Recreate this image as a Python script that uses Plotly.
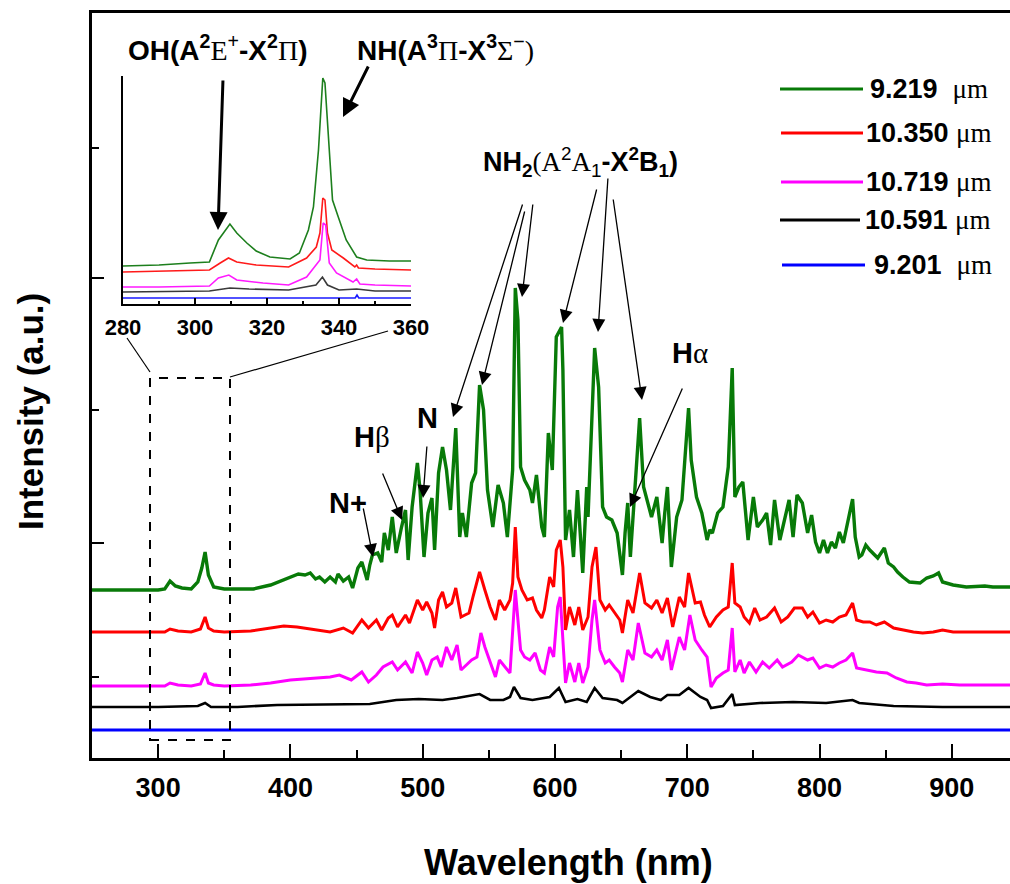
import plotly.graph_objects as go

# ---------------- main spectra: wavelength (nm) and intensity (a.u.) ----------------
green_wl = [250, 280, 300, 305, 309, 313, 318, 325, 330, 333, 335.5, 338, 342, 350, 360, 372, 385, 397,
            406, 411, 415, 419, 422, 426, 430, 434, 436, 440, 444, 447, 451, 454, 456, 458, 460, 462,
            466, 469, 471, 474, 477, 480, 484, 487, 489, 492, 496, 498, 501, 504, 507, 509, 512, 515,
            518, 521, 525, 528, 530, 533, 537, 540, 543, 546, 549, 553, 557, 561, 564, 568, 570, 572,
            574, 577, 581, 583, 586, 590, 592, 595, 598, 601, 605, 606, 608, 611, 614, 617, 621, 624,
            625, 628, 630, 633, 636, 639, 643, 647, 651, 653, 655, 657, 661, 664, 667, 670, 673, 677,
            681, 683, 685, 688, 692, 696, 698, 701, 703, 707, 711, 715, 717, 719, 723, 727, 731, 734,
            736, 739, 742, 746, 750, 753, 757, 760, 763, 766, 770, 777, 780, 783, 787, 791, 794, 797,
            800, 803, 806, 809, 812, 815, 818, 822, 825, 827, 830, 832, 835, 838, 842, 844, 849, 852,
            856, 859, 863, 868, 876, 881, 886, 890, 893, 901, 911, 925, 931, 944]
green_int = [168, 168, 168, 169, 177, 172, 170, 169, 176, 190, 206, 183, 171, 169, 169, 169, 173, 179,
             184, 183, 185, 179, 181, 176, 181, 176, 184, 177, 181, 170, 190, 196, 188, 178, 193, 203,
             205, 196, 225, 208, 241, 205, 231, 248, 198, 251, 295, 268, 201, 245, 260, 208, 285, 311,
             288, 248, 330, 221, 245, 221, 275, 285, 373, 348, 268, 231, 273, 255, 221, 288, 470, 438,
             291, 278, 268, 255, 283, 231, 221, 325, 288, 421, 431, 388, 218, 248, 201, 268, 185, 271,
             241, 331, 410, 371, 251, 241, 238, 225, 183, 225, 255, 201, 285, 340, 271, 255, 241, 261,
             215, 245, 271, 191, 241, 258, 291, 350, 298, 261, 245, 218, 228, 225, 245, 251, 291, 390,
             261, 271, 276, 218, 261, 231, 238, 245, 213, 258, 218, 258, 221, 263, 255, 225, 243, 216,
             205, 218, 205, 216, 210, 226, 215, 241, 259, 221, 201, 203, 213, 208, 203, 200, 210, 195,
             191, 186, 181, 176, 175, 180, 182, 185, 176, 173, 171, 172, 171, 171]

red_wl = [250, 300, 305, 309, 315, 325, 332, 335.5, 338, 342, 350, 370, 385, 395, 405, 420, 430, 440,
          447, 454, 459, 465, 469, 474, 477, 481, 487, 490, 496, 500, 503, 507, 509, 512, 515, 518,
          522, 525, 529, 532, 535, 538, 543, 547, 551, 555, 558, 562, 566, 568, 570, 572, 575, 579,
          583, 586, 590, 592, 596, 599, 601, 604, 606, 608, 611, 615, 618, 621, 625, 628, 631, 634,
          638, 641, 645, 649, 651, 655, 659, 664, 668, 673, 677, 681, 685, 689, 694, 698, 701, 706,
          710, 713, 717, 722, 727, 731, 734, 736, 740, 743, 747, 751, 755, 760, 766, 771, 776, 781,
          787, 791, 795, 800, 805, 810, 815, 820, 825, 828, 833, 838, 843, 849, 856, 863, 871, 878,
          886, 893, 901, 919, 944]
red_int = [126, 126, 126, 129, 127, 126, 129, 141, 130, 127, 126, 127, 130, 132, 131, 128, 126, 130,
           125, 138, 130, 138, 128, 140, 143, 131, 143, 135, 158, 148, 156, 145, 130, 158, 166, 151,
           155, 170, 141, 143, 145, 161, 186, 168, 151, 138, 158, 148, 158, 175, 231, 181, 168, 158,
           160, 148, 140, 148, 181, 171, 208, 218, 191, 128, 151, 133, 151, 128, 141, 191, 211, 158,
           148, 153, 145, 138, 125, 158, 145, 185, 155, 150, 158, 145, 160, 131, 161, 151, 185, 155,
           156, 143, 131, 141, 148, 151, 195, 155, 151, 141, 135, 150, 138, 141, 150, 136, 141, 150,
           150, 141, 146, 135, 138, 136, 141, 143, 155, 138, 136, 136, 133, 136, 130, 128, 126, 125,
           126, 128, 126, 126, 126]

magenta_wl = [250, 300, 305, 309, 315, 325, 332, 335.5, 338, 342, 350, 370, 385, 400, 420, 430, 437,
              446, 454, 459, 465, 470, 477, 481, 487, 492, 496, 500, 503, 507, 511, 514, 518, 522, 526,
              529, 533, 537, 541, 544, 547, 551, 555, 558, 562, 566, 570, 574, 577, 581, 585, 589, 592,
              596, 599, 602, 604, 606, 608, 611, 615, 618, 621, 625, 628, 630, 634, 638, 641, 645, 649,
              651, 655, 659, 663, 668, 673, 677, 681, 685, 688, 694, 698, 702, 706, 711, 715, 718, 722,
              727, 731, 734, 736, 740, 743, 747, 752, 757, 762, 768, 772, 779, 784, 791, 795, 800, 805,
              810, 815, 820, 825, 828, 836, 843, 851, 858, 866, 873, 881, 893, 906, 944]
magenta_int = [72, 72, 72, 75, 73, 72, 74, 85, 75, 73, 72, 73, 75, 78, 80, 81, 83,
               78, 86, 76, 83, 91, 96, 88, 96, 85, 106, 95, 83, 98, 101, 91, 111, 98, 113,
               88, 93, 98, 101, 125, 111, 95, 81, 98, 91, 85, 168, 108, 101, 98, 105, 88, 85,
               111, 101, 151, 161, 118, 75, 95, 76, 95, 75, 91, 138, 158, 108, 95, 98, 91, 85,
               76, 108, 98, 135, 105, 101, 108, 98, 118, 88, 121, 108, 143, 118, 108, 101, 71, 80,
               85, 88, 130, 86, 98, 85, 96, 86, 96, 90, 98, 91, 96, 103, 98, 100, 90, 93,
               91, 95, 98, 105, 90, 88, 86, 85, 80, 76, 75, 73, 74, 73, 73]

black_wl = [250, 300, 330, 335.5, 340, 360, 390, 430, 460, 480, 497, 515, 526, 543, 551, 561, 566, 569,
            574, 583, 596, 603, 608, 617, 624, 630, 636, 647, 651, 663, 672, 680, 685, 694, 701, 710,
            715, 718, 727, 734, 736, 755, 780, 805, 825, 830, 856, 893, 944]
black_int = [51, 51, 52, 55, 51, 51, 53, 54, 54, 58, 59, 58, 60, 64, 58, 58, 61, 71,
             60, 58, 61, 70, 56, 59, 56, 70, 60, 58, 55, 67, 61, 58, 63, 63, 70, 61,
             58, 50, 52, 64, 53, 55, 56, 55, 58, 55, 52, 51, 51]

blue_wl = [250, 345, 600, 900, 944]
blue_int = [28, 28, 28, 28, 28]

series_labels = ["9.219\u00a0\u00a0", "10.350\u00a0", "10.719\u00a0", "10.591\u00a0", "9.201\u00a0\u00a0"]
series_unit = "\u03bcm"

# ---------------- inset spectra (280-360 nm) ----------------
inset_green_wl = [280, 290, 298.6, 304, 306.5, 309.7, 311.6, 314.4, 317, 320.8, 326.4, 329, 331.5, 332.9,
                  334.3, 335.5, 336.1, 337, 338.2, 339.8, 342, 344.9, 347.7, 354, 360]
inset_green_int = [38, 39, 41, 42, 64, 80, 71, 61, 53, 47, 45, 51, 74, 97, 154, 226, 221, 171, 104, 87,
                   64, 47, 44, 43, 43]
inset_red_wl = [280, 290, 304, 307, 309.3, 311.6, 317, 326, 331, 333.7, 334.7, 335.5, 336.1, 336.8, 338,
                341.2, 344.4, 344.9, 345.4, 350, 360]
inset_red_int = [32, 33, 34, 41, 46, 42, 39, 37, 46, 57, 71, 106, 104, 71, 54, 46, 37, 39, 36, 35, 34]
inset_magenta_wl = [280, 290, 304, 306.5, 309.4, 311.6, 318.9, 326, 331, 334.7, 335.6, 336.3, 337.3, 339.3,
                    343.9, 344.9, 345.8, 350, 360]
inset_magenta_int = [17, 17, 18, 26, 29, 24, 21, 19, 27, 44, 81, 79, 41, 31, 22, 25, 20, 19, 18]
inset_black_wl = [280, 300, 304, 309.7, 315, 326, 333.6, 335.4, 336.8, 340, 344.9, 350, 360]
inset_black_int = [12, 13, 13, 16, 15, 14, 19, 27, 19, 14, 15, 13, 13]
inset_blue_wl = [280, 300, 320, 340, 344.5, 345, 345.5, 360]
inset_blue_int = [6, 6, 6, 6, 6, 9, 6, 6]

x_ticks = [300, 400, 500, 600, 700, 800, 900]
inset_ticks = [280, 300, 320, 340, 360]

# ---------------- styles ----------------
colors = ["#087a08", "#ff0000", "#ff00ff", "#000000", "#0000ff"]
widths = [3.4, 3.0, 3.0, 2.6, 3.0]
inset_colors = ["#1d7f1d", "#ff1a1a", "#ff1aff", "#3a3a3a", "#1a1aff"]

SANS = "Liberation Sans, Arial, sans-serif"


def serif(s):
    return "<span style='font-family:Liberation Serif,Times New Roman,serif'>" + s + "</span>"


# plot area in pixels
L, R, T, B = 92, 1010, 13, 758
XMIN, XMAX = 250, 944
YMAX = B - T


def px_x(px):
    return XMIN + (px - L) * (XMAX - XMIN) / (R - L)


def px_y(py):
    return B - py


def pap_x(px):
    return (px - L) / (R - L)


def pap_y(py):
    return (B - py) / (B - T)


fig = go.Figure()

main = [(green_wl, green_int), (red_wl, red_int), (magenta_wl, magenta_int),
        (black_wl, black_int), (blue_wl, blue_int)]
for (wl, it), c, w in zip(main, colors, widths):
    fig.add_trace(go.Scatter(x=wl, y=it, mode="lines", line=dict(color=c, width=w),
                             showlegend=False, hoverinfo="skip"))

inset = [(inset_green_wl, inset_green_int), (inset_red_wl, inset_red_int),
         (inset_magenta_wl, inset_magenta_int), (inset_black_wl, inset_black_int),
         (inset_blue_wl, inset_blue_int)]
for (wl, it), c in zip(inset, inset_colors):
    fig.add_trace(go.Scatter(x=wl, y=it, mode="lines", line=dict(color=c, width=1.6),
                             xaxis="x2", yaxis="y2", showlegend=False, hoverinfo="skip"))

annotations = []
shapes = []

# legend (custom)
leg_rows = [(780, 863, 89, 868), (781, 863, 133, 864), (781, 863, 182, 864),
            (780, 860, 220, 863), (782, 865, 265, 872)]
for (x0, x1, yy, tx), c, lab in zip(leg_rows, colors, series_labels):
    shapes.append(dict(type="line", xref="paper", yref="paper", x0=pap_x(x0), x1=pap_x(x1),
                       y0=pap_y(yy), y1=pap_y(yy), line=dict(color=c, width=3)))
    annotations.append(dict(xref="paper", yref="paper", x=pap_x(tx), y=pap_y(yy), xanchor="left",
                            yanchor="middle", showarrow=False,
                            text="<b>" + lab + "</b>" + serif(series_unit),
                            font=dict(family=SANS, size=27, color="black")))

# dashed zoom box and connectors
shapes.append(dict(type="rect", xref="x", yref="y", x0=px_x(150), x1=px_x(230), y0=px_y(740),
                   y1=px_y(378), line=dict(color="black", width=2, dash="dash")))
shapes.append(dict(type="line", xref="x", yref="y", x0=px_x(127), y0=px_y(338), x1=px_x(150),
                   y1=px_y(372), line=dict(color="black", width=1.2)))
shapes.append(dict(type="line", xref="x", yref="y", x0=px_x(230), y0=px_y(377), x1=px_x(388),
                   y1=px_y(331), line=dict(color="black", width=1.2)))


def label(px, py, text, size=28):
    annotations.append(dict(xref="x", yref="y", x=px_x(px), y=px_y(py), text=text, showarrow=False,
                            xanchor="center", yanchor="middle",
                            font=dict(family=SANS, size=size, color="black")))


def arrow(tx, ty, hx, hy, width=1.3, size=2.0):
    annotations.append(dict(xref="x", yref="y", axref="x", ayref="y", x=px_x(hx), y=px_y(hy),
                            ax=px_x(tx), ay=px_y(ty), text="", showarrow=True, arrowhead=2,
                            arrowsize=size, arrowwidth=width, arrowcolor="black",
                            standoff=0, startstandoff=0))


# inset titles
label(217, 48, "<b>OH(A</b><sup><b>2</b></sup>" + serif("E") + "<sup>+</sup><b>-X</b><sup><b>2</b></sup>"
      + serif("\u03a0") + "<b>)</b>", 28)
label(445, 48, "<b>NH(A</b><sup><b>3</b></sup>" + serif("\u03a0") + "<b>-X</b><sup><b>3</b></sup>"
      + serif("\u03a3") + "<sup>\u2212</sup>" + serif(")"), 28)
arrow(223, 79, 218, 230, width=3, size=1.2)
arrow(369, 65, 343, 117, width=3, size=1.2)

# NH2 label and arrows
label(580, 162, "<b>NH</b><sub><b>2</b></sub>" + serif("(A") + "<sup>2</sup>" + serif("A")
      + "<sub>1</sub><b>-X</b><sup><b>2</b></sup><b>B</b><sub><b>1</b></sub><b>)</b>", 27)
for t, h in [((523, 203), (453, 417)), ((525, 210), (482, 385)), ((533, 203), (522, 297)),
             ((597, 188), (563, 323)), ((608, 177), (598, 332)), ((613, 198), (642, 400))]:
    arrow(t[0], t[1], h[0], h[1])

label(690, 353, "<b>H</b>" + serif("\u03b1"), 29)
arrow(683, 387, 630, 507)
label(427, 418, "<b>N</b>", 29)
arrow(427, 445, 423, 498)
label(372, 437, "<b>H</b>" + serif("\u03b2"), 29)
arrow(382, 472, 402, 520)
label(348, 503, "<b>N+</b>", 29)
arrow(363, 507, 373, 557)

# axis titles
annotations.append(dict(xref="paper", yref="paper", x=pap_x(568), y=pap_y(862), text="<b>Wavelength (nm)</b>",
                        showarrow=False, xanchor="center", yanchor="middle",
                        font=dict(family=SANS, size=36, color="black")))
annotations.append(dict(xref="paper", yref="paper", x=pap_x(30), y=pap_y(412), text="<b>Intensity (a.u.)</b>",
                        showarrow=False, xanchor="center", yanchor="middle", textangle=-90,
                        font=dict(family=SANS, size=35, color="black")))

fig.update_layout(
    width=1010, height=884, autosize=False,
    margin=dict(l=L, r=1010 - R, t=T, b=884 - B, pad=0, autoexpand=False),
    paper_bgcolor="white", plot_bgcolor="white",
    showlegend=False,
    xaxis=dict(range=[XMIN, XMAX], automargin=False, showgrid=False, zeroline=False, showline=True,
               linecolor="black",
               linewidth=2.6, mirror=True, ticks="inside", ticklen=14, tickwidth=2.4, tickcolor="black",
               tickvals=x_ticks, ticktext=[str(v) for v in x_ticks], ticklabelstandoff=4,
               tickfont=dict(family=SANS, size=27, color="black", weight="bold"),
               minor=dict(ticks="inside", ticklen=8, tickwidth=2.4, tickcolor="black", dtick=50, tick0=250)),
    yaxis=dict(range=[0, YMAX], automargin=False, showgrid=False, zeroline=False, showline=True,
               linecolor="black",
               linewidth=2.6, ticks="inside", ticklen=12, tickwidth=2.4, tickcolor="black",
               tickmode="array", tickvals=[215, 480], showticklabels=False,
               minor=dict(ticks="inside", ticklen=7, tickwidth=2.4, tickcolor="black",
                          tickmode="array", tickvals=[81, 348, 610])),
    xaxis2=dict(domain=[pap_x(123), pap_x(411)], anchor="y2", range=[280, 360], automargin=False,
                showgrid=False,
                zeroline=False, showline=True, linecolor="black", linewidth=2, ticks="inside",
                ticklen=6, tickwidth=1.8, tickcolor="black", tickvals=inset_ticks,
                ticktext=[str(v) for v in inset_ticks], ticklabelstandoff=3,
                tickfont=dict(family=SANS, size=22, color="black", weight="bold"),
                minor=dict(ticks="inside", ticklen=3, tickwidth=1.5, tickcolor="black", dtick=10, tick0=280)),
    yaxis2=dict(domain=[pap_y(304), pap_y(76)], anchor="x2", range=[0, 228], automargin=False,
                showgrid=False,
                zeroline=False, showline=True, linecolor="black", linewidth=2, ticks="",
                showticklabels=False),
    annotations=annotations,
    shapes=shapes,
)

fig.write_html(
    "out.html",
    config={"displayModeBar": False, "responsive": False},
    post_script=("document.documentElement.style.margin='0px';"
                 "document.documentElement.style.overflow='hidden';"
                 "document.body.style.margin='0px';"
                 "document.body.style.overflow='hidden';"),
)
